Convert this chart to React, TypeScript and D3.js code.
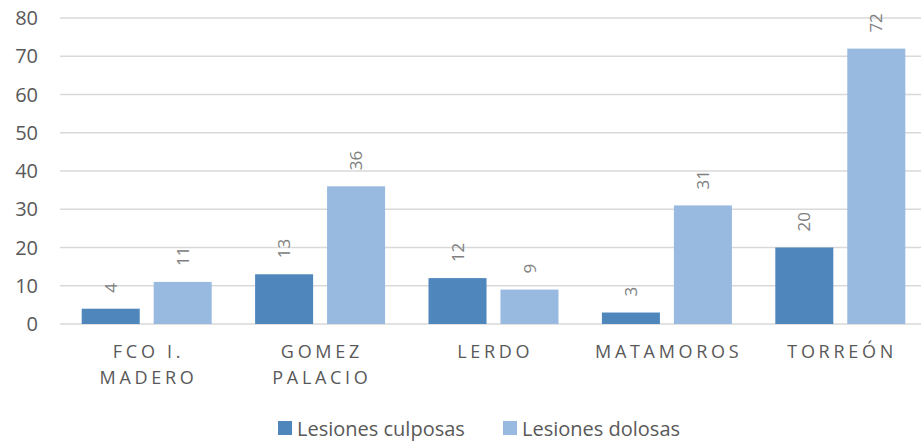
import React, { useEffect, useRef } from "react";
import * as d3 from "d3";

const categories = [["FCO I.", "MADERO"], ["GOMEZ", "PALACIO"], ["LERDO"], ["MATAMOROS"], ["TORREÓN"]];
const seriesNames = ["Lesiones culposas", "Lesiones dolosas"];
const culposas = [4, 13, 12, 3, 20];
const dolosas = [11, 36, 9, 31, 72];
const yTicks = [0, 10, 20, 30, 40, 50, 60, 70, 80];
const colors = ["#4F87BC", "#98B9E0"];

const width = 921;
const height = 442;
const font = "'Open Sans', sans-serif";

const App: React.FC = () => {
  const svgRef = useRef<SVGSVGElement>(null);

  useEffect(() => {
    const svg = d3.select(svgRef.current);
    svg.selectAll("*").remove();

    const left = 60;
    const right = 927;
    const top = 18;
    const bottom = 324;

    const keys = categories.map((c) => c.join(" "));
    const x0 = d3.scaleBand().domain(keys).range([left, right]).padding(0);
    const x1 = d3.scaleBand().domain(seriesNames).range([-65, 65]).paddingInner(0.194);
    const y = d3.scaleLinear().domain([0, 80]).range([bottom, top]);

    // gridlines
    svg
      .append("g")
      .selectAll("line")
      .data(yTicks)
      .join("line")
      .attr("x1", left)
      .attr("x2", width)
      .attr("y1", (d) => y(d))
      .attr("y2", (d) => y(d))
      .attr("stroke", "#D9D9D9")
      .attr("stroke-width", 1.3);

    // y labels
    svg
      .append("g")
      .selectAll("text")
      .data(yTicks)
      .join("text")
      .attr("x", 38)
      .attr("y", (d) => y(d))
      .attr("dy", "0.36em")
      .attr("text-anchor", "end")
      .attr("font-family", font)
      .attr("font-size", 20)
      .attr("fill", "#595959")
      .text((d) => d);

    const series = [culposas, dolosas];
    series.forEach((vals, si) => {
      const g = svg.append("g");
      g.selectAll("rect")
        .data(vals)
        .join("rect")
        .attr("x", (_, i) => (x0(keys[i]) || 0) + x0.bandwidth() / 2 + (x1(seriesNames[si]) || 0))
        .attr("width", x1.bandwidth())
        .attr("y", (d) => y(d))
        .attr("height", (d) => bottom - y(d))
        .attr("fill", colors[si]);

      g.selectAll("text")
        .data(vals)
        .join("text")
        .attr("transform", (d, i) => {
          const cx = (x0(keys[i]) || 0) + x0.bandwidth() / 2 + (x1(seriesNames[si]) || 0) + x1.bandwidth() / 2;
          return `translate(${cx},${y(d) - 16}) rotate(-90)`;
        })
        .attr("dy", "0.36em")
        .attr("text-anchor", "start")
        .attr("font-family", font)
        .attr("font-size", 17)
        .attr("fill", "#808080")
        .text((d) => d);
    });

    // category labels
    categories.forEach((lines, i) => {
      const cx = (x0(keys[i]) || 0) + x0.bandwidth() / 2;
      lines.forEach((line, li) => {
        svg
          .append("text")
          .attr("x", cx + 1.8)
          .attr("y", 358 + li * 26)
          .attr("text-anchor", "middle")
          .attr("font-family", font)
          .attr("font-size", 18)
          .attr("letter-spacing", 3.7)
          .attr("fill", "#595959")
          .text(line);
      });
    });

    // legend
    const legendX = [278, 503];
    seriesNames.forEach((name, i) => {
      svg
        .append("rect")
        .attr("x", legendX[i])
        .attr("y", 421)
        .attr("width", 14)
        .attr("height", 14)
        .attr("fill", colors[i]);
      svg
        .append("text")
        .attr("x", legendX[i] + 19)
        .attr("y", 436)
        .attr("font-family", font)
        .attr("font-size", 20)
        .attr("fill", "#595959")
        .text(name);
    });
  }, []);

  return (
    <svg
      ref={svgRef}
      width={width}
      height={height}
      style={{ position: "absolute", left: 0, top: 0 }}
    />
  );
};

export default App;
